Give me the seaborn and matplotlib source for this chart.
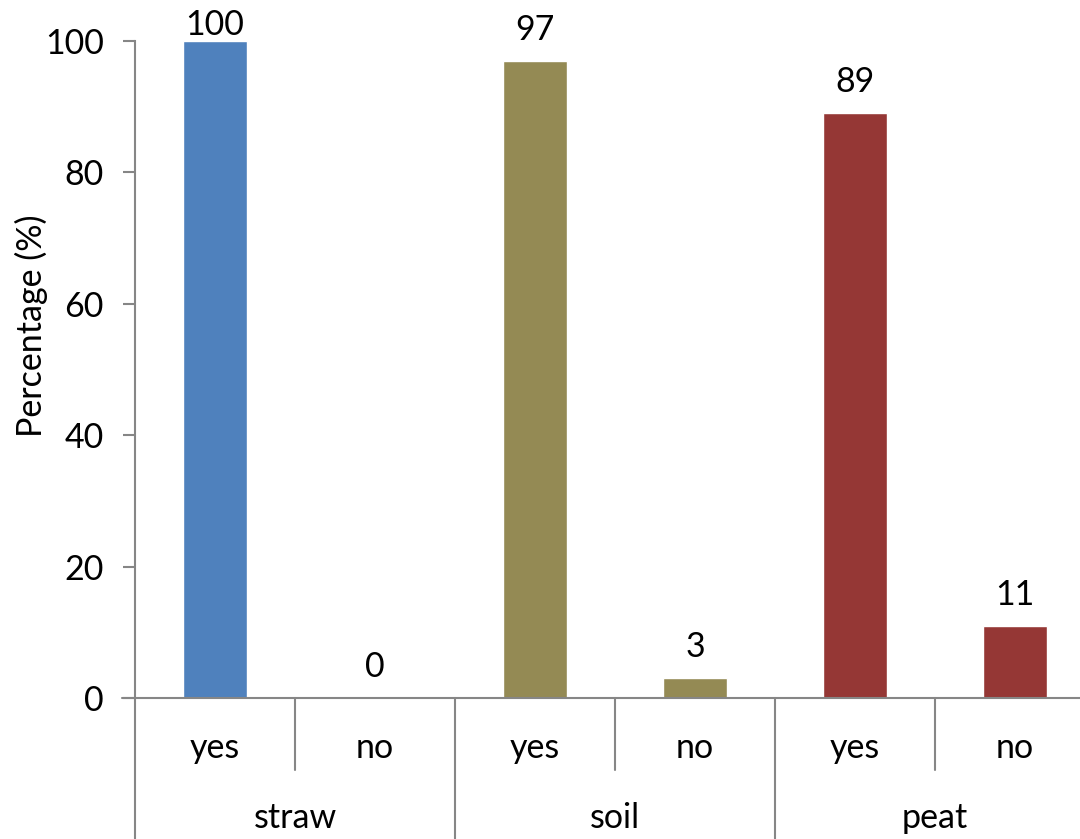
import matplotlib
matplotlib.use("Agg")
import matplotlib.pyplot as plt
import matplotlib.transforms as mtransforms
import seaborn as sns
import pandas as pd

# Data
groups = ["straw", "straw", "soil", "soil", "peat", "peat"]
answers = ["yes", "no", "yes", "no", "yes", "no"]
values = [100, 0, 97, 3, 89, 11]
group_order = ["straw", "soil", "peat"]
group_colors = {"straw": "#4F81BD", "soil": "#948A54", "peat": "#953735"}
y_ticks = [0, 20, 40, 60, 80, 100]
y_label = "Percentage (%)"

sns.set_style("white")
plt.rcParams["font.family"] = ["Lato", "DejaVu Sans"]
plt.rcParams["text.color"] = "black"
plt.rcParams["axes.labelcolor"] = "black"
plt.rcParams["ytick.labelcolor"] = "black"

FS = 24.5

slots = [f"{g}-{a}" for g, a in zip(groups, answers)]
df = pd.DataFrame({"slot": slots, "group": groups, "answer": answers, "value": values})

W, H, DPI = 1080, 839, 100
fig = plt.figure(figsize=(W / DPI, H / DPI), dpi=DPI)
ax_left, ax_bottom = 135 / W, 1 - 698 / H
ax_w, ax_h = 960 / W, (698 - 41) / H
ax = fig.add_axes([ax_left, ax_bottom, ax_w, ax_h])

sns.barplot(data=df, x="slot", y="value", hue="group", hue_order=group_order,
            palette=group_colors, dodge=False, width=0.4, saturation=1,
            legend=False, ax=ax)

ax.set_xlim(-0.5, len(slots) - 0.5)
ax.set_ylim(0, 100)
ax.set_yticks(y_ticks)
ax.set_yticklabels([str(t) for t in y_ticks], fontsize=FS)
ax.set_ylabel(y_label, fontsize=FS)
ax.yaxis.set_label_coords(-0.091, 0.566)
ax.set_xlabel("")
ax.set_xticks([])

axis_color = "#868686"
for side in ["top", "right", "bottom"]:
    ax.spines[side].set_visible(False)
ax.spines["left"].set_color(axis_color)
ax.spines["left"].set_linewidth(1.5)
ax.tick_params(axis="y", direction="out", length=8.5, width=1.5,
               color=axis_color, labelcolor="black", pad=14, left=True)

# Value labels above bars
for i, v in enumerate(values):
    off = 4.5 if v >= 99 else 15
    ax.annotate(str(v), xy=(i, v), xytext=(0, off), textcoords="offset points",
                ha="center", va="baseline", fontsize=FS, color="black")

# Multi-level category axis drawn below the plot
px = 1 / (ax_h * H)  # one pixel in axes-y units
trans = mtransforms.blended_transform_factory(ax.transData, ax.transAxes)
line_kw = dict(color=axis_color, linewidth=1.5, clip_on=False)

# horizontal axis line (extends a little left of the y axis)
ax.plot([-0.5 - 13 / 160, len(slots) - 0.5], [0, 0], transform=trans, **line_kw)
# y axis continues down through the category rows
ax.plot([-0.5, -0.5], [0, -141 * px], transform=trans, **line_kw)

n_per_group = 2
for k in range(1, len(slots)):
    x = k - 0.5
    if k % n_per_group == 0:
        ax.plot([x, x], [0, -141 * px], transform=trans, **line_kw)
    else:
        ax.plot([x, x], [0, -72 * px], transform=trans, **line_kw)

for i, a in enumerate(answers):
    ax.text(i, -50 * px, a, transform=trans, ha="center", va="center",
            fontsize=FS, color="black")

for j, g in enumerate(group_order):
    xc = j * n_per_group + (n_per_group - 1) / 2
    ax.text(xc, -120 * px, g, transform=trans, ha="center", va="center",
            fontsize=FS, color="black")

fig.savefig("out.png", dpi=DPI)
